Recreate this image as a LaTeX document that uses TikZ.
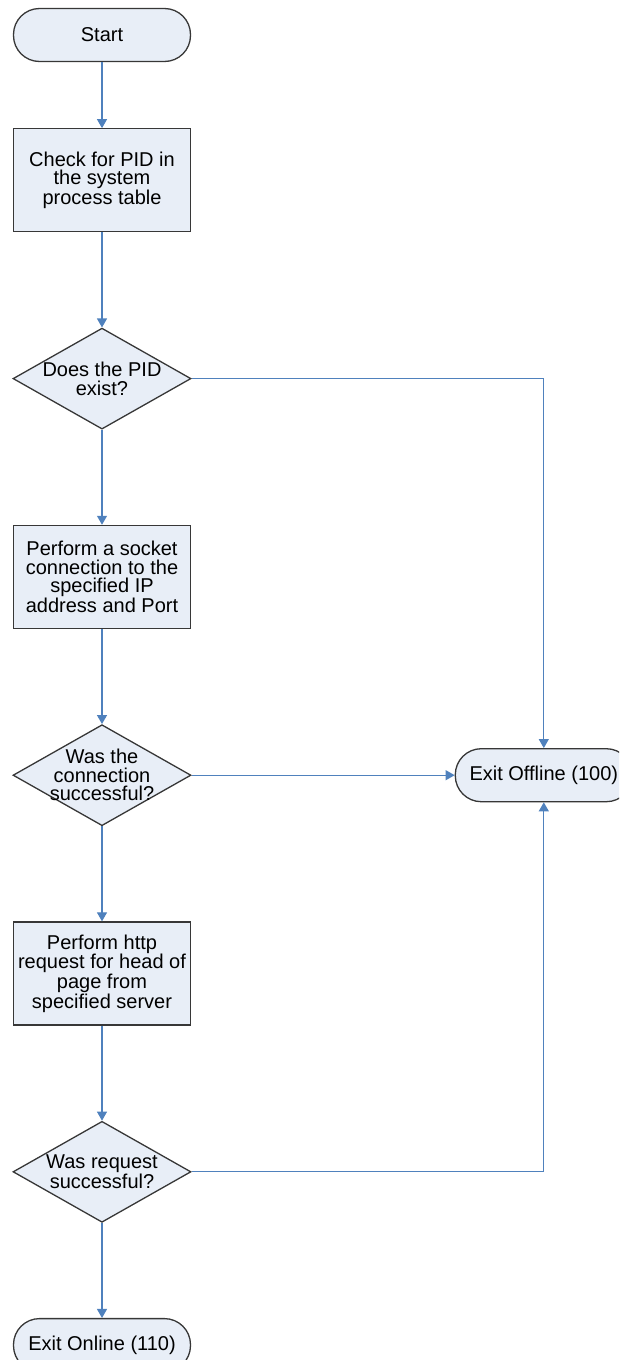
\documentclass[tikz,border=0pt]{standalone}
\usepackage{fontspec}
\setmainfont{Liberation Sans}
\usetikzlibrary{positioning,shapes.geometric,arrows.meta}

\definecolor{boxfill}{RGB}{232,238,247}
\definecolor{flowblue}{RGB}{79,129,189}
\definecolor{edgegrey}{RGB}{55,55,55}

\begin{document}
\begin{tikzpicture}[
    x=1pt, y=1pt,
    node distance = 95pt,
    font=\fontsize{20}{18.5}\selectfont,
    terminal/.style={draw=edgegrey, fill=boxfill, line width=1.3pt, rounded corners=26pt, minimum width=177pt, minimum height=53pt},
    process/.style={draw=edgegrey, fill=boxfill, line width=1.3pt, align=center, minimum width=177pt, minimum height=103pt},
    decision/.style={draw=edgegrey, fill=boxfill, line width=1.3pt, diamond, minimum width=178pt, minimum height=101pt, inner sep=0pt},
    question/.style={align=center, inner sep=0pt},
    flow/.style={draw=flowblue, line width=1.2pt, -{Triangle[length=9pt,width=10pt]}},
]

% Page frame, the two exit nodes run past its edges
\clip (0,0) rectangle (619,-1360);

% Main column
\node[terminal] (start) at (102,-35) {Start};

\node[process, below=66pt of start] (check) {
    Check for PID in\\
    the system\\
    process table
};

\node[decision, below=of check, label={[question]center:Does the PID\\exist?}] (pidq) {};

\node[process, below=of pidq] (socket) {
    Perform a socket\\
    connection to the\\
    specified IP\\
    address and Port
};

\node[decision, below=of socket, label={[question]center:Was the\\connection\\successful?}] (connq) {};

\node[process, below=of connq] (http) {
    Perform http\\
    request for head of\\
    page from\\
    specified server
};

\node[decision, below=of http, label={[question]center:Was request\\successful?}] (reqq) {};

\node[terminal, below=of reqq] (online) {Exit Online (110)};

% Failure exit on the right
\node[terminal, right=263pt of connq] (offline) {Exit Offline (100)};

% Connectors down the column
\draw[flow] (start) -- (check);
\draw[flow] (check) -- (pidq);
\draw[flow] (pidq) -- (socket);
\draw[flow] (socket) -- (connq);
\draw[flow] (connq) -- (http);
\draw[flow] (http) -- (reqq);
\draw[flow] (reqq) -- (online);

% Connectors to the offline exit
\draw[flow] (pidq.east) -| (offline.north);
\draw[flow] (connq) -- (offline);
\draw[flow] (reqq.east) -| (offline.south);

\end{tikzpicture}
\end{document}
